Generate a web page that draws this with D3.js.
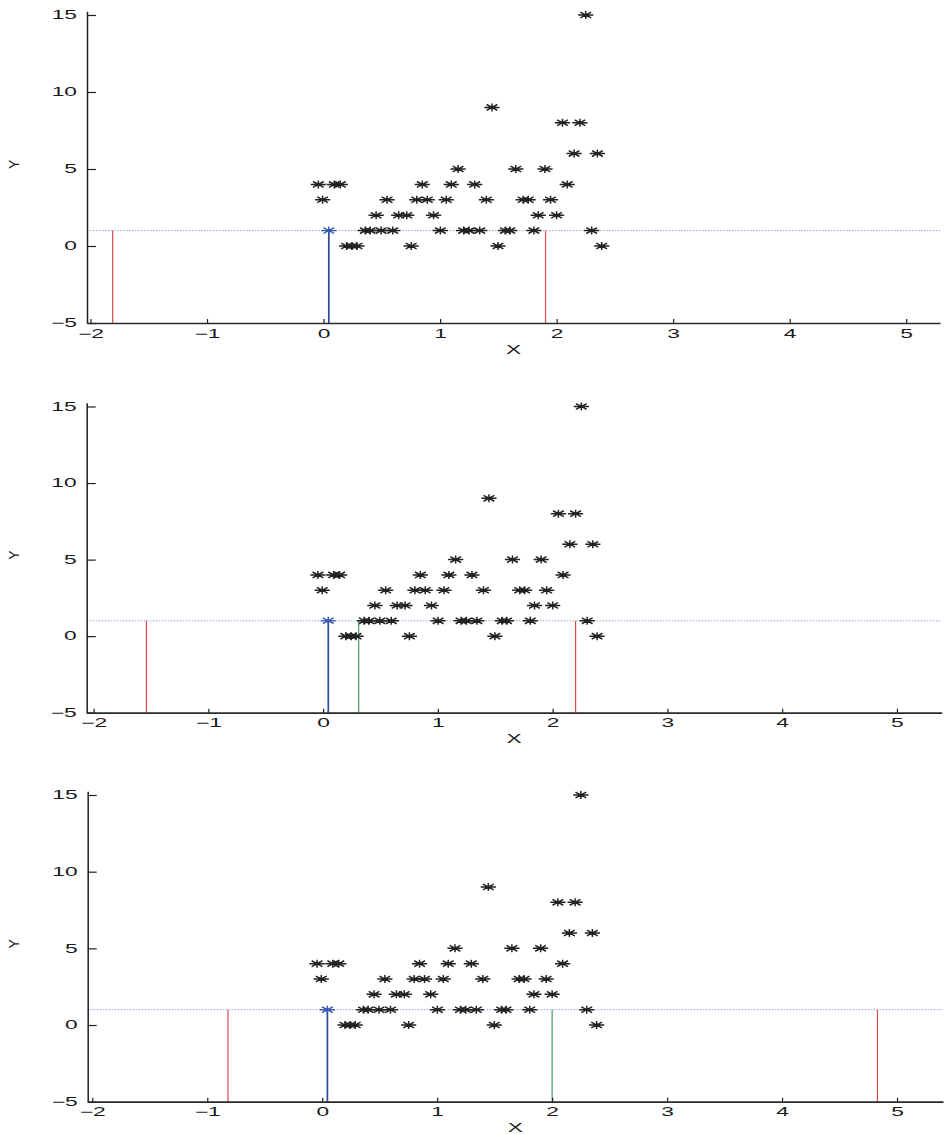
<!DOCTYPE html>
<html>
<head>
<meta charset="utf-8">
<script src="https://cdn.jsdelivr.net/npm/d3@7"></script>
<style>
  body { margin: 0; background: #fff; }
  svg { display: block; }
  text { font-family: "Liberation Sans", Arial, Helvetica, sans-serif; fill: #1a1a1a; }
</style>
</head>
<body>
<svg id="chart" width="948" height="1134"></svg>
<script>
// ---- data ----
const xTicks = [-2, -1, 0, 1, 2, 3, 4, 5];
const yTicks = [-5, 0, 5, 10, 15];

// observed samples (x, y)
const pointX = [
  2.25,
  1.445,
  2.05, 2.20,
  2.15, 2.35,
  1.155, 1.65, 1.90,
  -0.045, 0.092, 0.144, 0.847, 1.096, 1.297, 2.091,
  -0.008, 0.545, 0.80, 0.89, 1.053, 1.397, 1.713, 1.756, 1.948,
  0.451, 0.645, 0.714, 0.944, 1.842, 2.00,
  0.359, 0.399, 0.494, 0.594, 1.002, 1.202, 1.248, 1.34, 1.561, 1.598, 1.805, 2.301,
  0.198, 0.244, 0.287, 0.752, 1.497, 2.387
];
const pointY = [
  15,
  9,
  8, 8,
  6, 6,
  5, 5, 5,
  4, 4, 4, 4, 4, 4, 4,
  3, 3, 3, 3, 3, 3, 3, 3, 3,
  2, 2, 2, 2, 2, 2,
  1, 1, 1, 1, 1, 1, 1, 1, 1, 1, 1, 1,
  0, 0, 0, 0, 0, 0
];

// highlighted sample and horizontal reference level
const selectedX = 0.045;
const selectedY = 1;
const levelY = 1;

// vertical markers per panel (drawn from the bottom of the axes up to levelY)
const redMarks   = [[-1.81, 1.905], [-1.54, 2.20], [-0.82, 4.83]];
const greenMarks = [[], [0.31], [2.00]];
const blueMarks  = [[0.045], [0.045], [0.045]];

// axis limits per panel
const xLimits = [[-2.03, 5.29], [-2.06, 5.39], [-2.04, 5.40]];
const yLimits = [-5, 15.25];

// ---- layout ----
const panels = [
  { left: 87,   right: 940,   yBottom: 323,    yTop15: 15 },
  { left: 86.7, right: 941.7, yBottom: 712.7,  yTop15: 406.5 },
  { left: 87.7, right: 943,   yBottom: 1101.7, yTop15: 795 }
];
const SX = 1.9;           // horizontal stretch of the lettering
const FONT = 12;

const svg = d3.select("#chart");
svg.append("rect").attr("width", 948).attr("height", 1134).attr("fill", "#fff");

function starPath(cx, cy) {
  const w = 7.6, h = 4.0, dw = 5.4, dh = 2.9;
  return `M${cx - w},${cy}H${cx + w}M${cx},${cy - h}V${cy + h}` +
         `M${cx - dw},${cy - dh}L${cx + dw},${cy + dh}M${cx - dw},${cy + dh}L${cx + dw},${cy - dh}`;
}

panels.forEach((p, i) => {
  const unit = (p.yBottom - p.yTop15) / 20;
  const x = d3.scaleLinear().domain(xLimits[i]).range([p.left, p.right]);
  const y = d3.scaleLinear().domain(yLimits)
    .range([p.yBottom, p.yBottom - (yLimits[1] - yLimits[0]) * unit]);

  const g = svg.append("g");

  // horizontal reference level
  g.append("line")
    .attr("x1", x(xLimits[i][0])).attr("x2", x(xLimits[i][1]))
    .attr("y1", y(levelY)).attr("y2", y(levelY))
    .attr("stroke", "#8ea4dc").attr("stroke-width", 1)
    .attr("stroke-dasharray", "1.5,1.5");

  // vertical markers
  const marks = [
    ...redMarks[i].map(v => ({ v, c: "#dc4a4a", w: 1.2 })),
    ...greenMarks[i].map(v => ({ v, c: "#4a9a68", w: 1.2 })),
    ...blueMarks[i].map(v => ({ v, c: "#2c4a9c", w: 1.7 }))
  ];
  g.selectAll("line.mark").data(marks).join("line")
    .attr("class", "mark")
    .attr("x1", d => x(d.v)).attr("x2", d => x(d.v))
    .attr("y1", y(yLimits[0])).attr("y2", y(levelY))
    .attr("stroke", d => d.c).attr("stroke-width", d => d.w);

  // samples
  g.selectAll("path.pt").data(d3.range(pointX.length)).join("path")
    .attr("class", "pt")
    .attr("d", k => starPath(x(pointX[k]), y(pointY[k])))
    .attr("fill", "none").attr("stroke", "#222").attr("stroke-width", 1.5);

  // highlighted sample
  g.append("path")
    .attr("d", starPath(x(selectedX), y(selectedY)))
    .attr("fill", "none").attr("stroke", "#3556b0").attr("stroke-width", 1.4);

  // y axis
  const ya = g.append("g").attr("transform", `translate(${p.left},0)`)
    .call(d3.axisLeft(y).tickValues(yTicks).tickSizeInner(-9).tickSizeOuter(0).tickPadding(0));
  ya.attr("font-family", null).attr("font-size", null);
  ya.select(".domain").attr("stroke", "#1e1e1e").attr("stroke-width", 1.5);
  ya.selectAll(".tick line").attr("stroke", "#1e1e1e").attr("stroke-width", 1.2);
  ya.selectAll(".tick text")
    .attr("x", -10 / SX).attr("transform", `scale(${SX},1)`)
    .style("font-size", FONT + "px").attr("fill", "#1a1a1a");

  // x axis
  const xa = g.append("g").attr("transform", `translate(0,${p.yBottom})`)
    .call(d3.axisBottom(x).tickValues(xTicks).tickSizeInner(-4).tickSizeOuter(0).tickPadding(6));
  xa.attr("font-family", null).attr("font-size", null);
  xa.select(".domain").attr("stroke", "#2a2a2a").attr("stroke-width", 1.7);
  xa.selectAll(".tick line").attr("stroke", "#1e1e1e").attr("stroke-width", 1.2);
  xa.selectAll(".tick text")
    .attr("transform", `scale(${SX},1)`)
    .style("font-size", FONT + "px").attr("fill", "#1a1a1a");

  // axis titles
  g.append("g")
    .attr("transform", `translate(${(p.left + p.right) / 2},${p.yBottom + 30.5})`)
    .append("text").attr("transform", `scale(${SX},1)`)
    .attr("text-anchor", "middle").style("font-size", FONT + "px").text("X");

  g.append("text")
    .attr("transform", `translate(19,${y(5.3)}) rotate(-90)`)
    .attr("text-anchor", "middle").style("font-size", "14px").text("Y");
});
</script>
</body>
</html>
